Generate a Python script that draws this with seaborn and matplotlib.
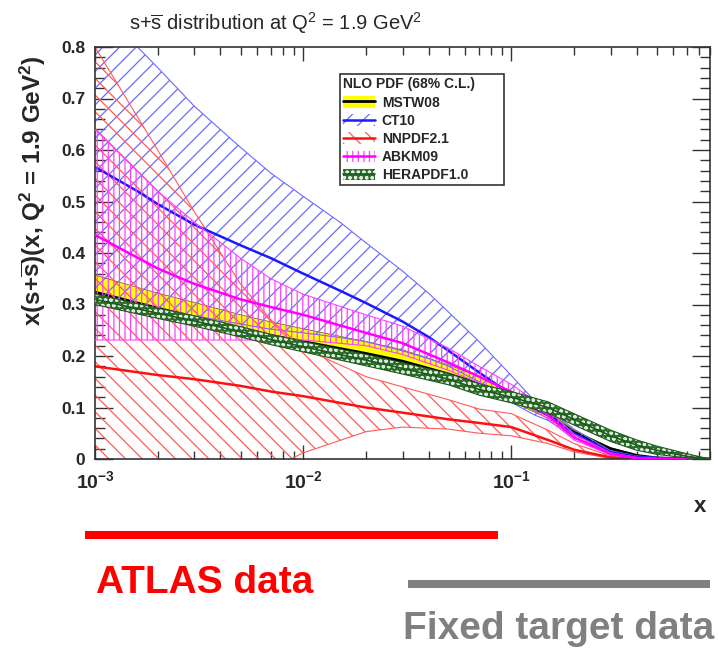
import matplotlib
matplotlib.use("Agg")
import matplotlib.pyplot as plt
import numpy as np
import pandas as pd
import seaborn as sns
from matplotlib.patches import Patch, Rectangle
from matplotlib.lines import Line2D
from matplotlib.ticker import FixedLocator, FixedFormatter, LogLocator, NullFormatter, MultipleLocator

# ---------------------------------------------------------------- data
x_nodes = [0.001, 0.002, 0.003, 0.005, 0.007, 0.01, 0.02, 0.03, 0.05, 0.07,
           0.1, 0.15, 0.2, 0.3, 0.4, 0.5, 0.7, 0.9]

mstw_central = [0.324, 0.293, 0.276, 0.254, 0.240, 0.228, 0.205, 0.190, 0.165, 0.146,
                0.122, 0.086, 0.052, 0.020, 0.007, 0.002, 0.0003, 0.0]
mstw_upper = [0.357, 0.322, 0.304, 0.280, 0.266, 0.253, 0.228, 0.212, 0.183, 0.160,
              0.132, 0.092, 0.056, 0.022, 0.008, 0.0025, 0.0005, 0.0]
mstw_lower = [0.300, 0.275, 0.260, 0.240, 0.226, 0.214, 0.190, 0.175, 0.150, 0.133,
              0.112, 0.079, 0.047, 0.017, 0.005, 0.0015, 0.0002, 0.0]

ct10_x = [0.001, 0.0016, 0.002, 0.003, 0.005, 0.007, 0.01, 0.015, 0.02, 0.03, 0.04,
          0.05, 0.07, 0.1, 0.13, 0.15, 0.2, 0.3, 0.4, 0.5, 0.7, 0.9]
ct10_central = [0.567, 0.520, 0.495, 0.455, 0.415, 0.390, 0.360, 0.327, 0.303, 0.267, 0.237,
                0.210, 0.168, 0.125, 0.097, 0.085, 0.050, 0.013, 0.004, 0.002, 0.0005, 0.0]
ct10_upper = [0.880, 0.800, 0.760, 0.685, 0.605, 0.555, 0.510, 0.460, 0.420, 0.365, 0.322,
              0.285, 0.228, 0.162, 0.112, 0.097, 0.058, 0.016, 0.006, 0.003, 0.001, 0.0]
ct10_lower = [0.310, 0.298, 0.290, 0.278, 0.262, 0.252, 0.245, 0.236, 0.228, 0.210, 0.195,
              0.180, 0.150, 0.110, 0.085, 0.075, 0.042, 0.010, 0.003, 0.001, 0.0002, 0.0]

nnpdf_x = [0.001, 0.002, 0.003, 0.005, 0.007, 0.01, 0.02, 0.03, 0.05, 0.07,
           0.1, 0.15, 0.2, 0.3, 0.4]
nnpdf_central = [0.180, 0.163, 0.155, 0.142, 0.131, 0.122, 0.100, 0.090, 0.077, 0.070,
                 0.062, 0.037, 0.018, 0.003, 0.0]
nnpdf_upper = [0.800, 0.600, 0.480, 0.340, 0.270, 0.215, 0.160, 0.140, 0.115, 0.097,
               0.088, 0.056, 0.030, 0.006, 0.0]
nnpdf_lower = [-0.400, -0.250, -0.160, -0.070, -0.020, 0.012, 0.053, 0.062, 0.058, 0.050,
               0.045, 0.030, 0.014, 0.001, 0.0]

abkm_central = [0.435, 0.370, 0.340, 0.310, 0.295, 0.280, 0.245, 0.225, 0.187, 0.160,
                0.130, 0.085, 0.042, 0.010, 0.002, 0.0005, 0.0, 0.0]
abkm_upper = [0.640, 0.520, 0.460, 0.390, 0.350, 0.320, 0.280, 0.258, 0.215, 0.180,
              0.145, 0.095, 0.048, 0.012, 0.003, 0.001, 0.0, 0.0]
abkm_lower = [0.231, 0.231, 0.231, 0.231, 0.231, 0.231, 0.220, 0.203, 0.172, 0.148,
              0.120, 0.078, 0.037, 0.008, 0.001, 0.0, 0.0, 0.0]

hera_central = [0.310, 0.283, 0.268, 0.247, 0.232, 0.218, 0.192, 0.176, 0.155, 0.135,
                0.120, 0.100, 0.077, 0.045, 0.027, 0.017, 0.005, 0.0]
hera_upper = [0.320, 0.293, 0.278, 0.257, 0.242, 0.228, 0.203, 0.187, 0.166, 0.146,
              0.131, 0.111, 0.088, 0.056, 0.037, 0.025, 0.010, 0.0]
hera_lower = [0.300, 0.273, 0.258, 0.237, 0.222, 0.208, 0.181, 0.165, 0.144, 0.124,
              0.109, 0.089, 0.066, 0.034, 0.017, 0.009, 0.002, 0.0]

pdf_names = ["MSTW08", "CT10", "NNPDF2.1", "ABKM09", "HERAPDF1.0"]
y_ticks = [0.0, 0.1, 0.2, 0.3, 0.4, 0.5, 0.6, 0.7, 0.8]
y_tick_labels = ["0", "0.1", "0.2", "0.3", "0.4", "0.5", "0.6", "0.7", "0.8"]
x_ticks = [1e-3, 1e-2, 1e-1]
x_tick_labels = [r"$\mathbf{10^{-3}}$", r"$\mathbf{10^{-2}}$", r"$\mathbf{10^{-1}}$"]

# ---------------------------------------------------------------- style
sns.set_theme(style="white")
plt.rcParams["font.family"] = ["Liberation Sans", "DejaVu Sans"]
plt.rcParams["mathtext.fontset"] = "custom"
plt.rcParams["mathtext.rm"] = "Liberation Sans"
plt.rcParams["mathtext.bf"] = "Liberation Sans:bold"
plt.rcParams["mathtext.it"] = "Liberation Sans:italic"
plt.rcParams["hatch.linewidth"] = 0.9

fig = plt.figure(figsize=(7.18, 6.51), dpi=100)
ax = fig.add_axes([95 / 718, 1 - 459 / 651, 615 / 718, 412 / 651])
ax.set_xscale("log")


def band(xs, lo, hi, edge, hatch, lw_edge=0.8, z=1):
    ax.fill_between(xs, lo, hi, facecolor="none", edgecolor=edge, hatch=hatch,
                    linewidth=0, zorder=z)
    for ys in (lo, hi):
        sns.lineplot(x=xs, y=ys, ax=ax, color=edge, linewidth=lw_edge,
                     estimator=None, sort=False, zorder=z + 0.1)


def central(xs, ys, color, lw=1.8, z=3):
    sns.lineplot(x=xs, y=ys, ax=ax, color=color, linewidth=lw,
                 estimator=None, sort=False, zorder=z)


# MSTW08: yellow band with black central line
ax.fill_between(x_nodes, mstw_lower, mstw_upper, facecolor="#ffff00",
                edgecolor="none", linewidth=0, zorder=1)
for ys in (mstw_lower, mstw_upper):
    sns.lineplot(x=x_nodes, y=ys, ax=ax, color="#555500", linewidth=0.5,
                 estimator=None, sort=False, zorder=1.1)
central(x_nodes, mstw_central, "black", lw=2.0, z=1.2)

# CT10: blue hatched band
band(ct10_x, ct10_lower, ct10_upper, "#6a6aff", "//", z=2)
central(ct10_x, ct10_central, "#1a1aff", z=2.5)

# NNPDF2.1: red hatched band
band(nnpdf_x, nnpdf_lower, nnpdf_upper, "#ff5a5a", "\\\\", z=2)
central(nnpdf_x, nnpdf_central, "#ff1010", z=2.5)

# ABKM09: magenta vertical hatch
band(x_nodes, abkm_lower, abkm_upper, "#ff40ff", "|||", z=2.6)
central(x_nodes, abkm_central, "#ff00ff", z=2.7)

# HERAPDF1.0: dark green band with white dots
ax.fill_between(x_nodes, hera_lower, hera_upper, facecolor="#2a6e2a",
                edgecolor="#dfeadf", hatch="ooo", linewidth=0, zorder=3)
for ys in (hera_lower, hera_upper):
    sns.lineplot(x=x_nodes, y=ys, ax=ax, color="#1f5a1f", linewidth=0.8,
                 estimator=None, sort=False, zorder=3.1)
central(x_nodes, hera_central, "#1f5a1f", lw=1.2, z=3.2)

# ---------------------------------------------------------------- axes
ax.set_xlim(1e-3, 0.9)
ax.set_ylim(0, 0.8)
ax.set_xlabel("")
ax.set_ylabel("")
ax.yaxis.set_major_locator(FixedLocator(y_ticks))
ax.yaxis.set_major_formatter(FixedFormatter(y_tick_labels))
ax.yaxis.set_minor_locator(MultipleLocator(0.02))
ax.xaxis.set_major_locator(FixedLocator(x_ticks))
ax.xaxis.set_major_formatter(FixedFormatter(x_tick_labels))
ax.xaxis.set_minor_locator(LogLocator(base=10, subs=np.arange(2, 10), numticks=20))
ax.xaxis.set_minor_formatter(NullFormatter())

ax.tick_params(axis="y", which="major", direction="in", length=13, width=1.0,
               left=True, right=True, labelsize=12.5, pad=7, color="#333333")
ax.tick_params(axis="y", which="minor", direction="in", length=7, width=1.0,
               left=True, right=True, color="#333333")
ax.tick_params(axis="x", which="major", direction="in", length=10, width=1.0,
               bottom=True, top=True, labelsize=14, pad=8, color="#333333")
ax.tick_params(axis="x", which="minor", direction="in", length=6, width=1.0,
               bottom=True, top=True, color="#333333")
for lab in ax.get_yticklabels():
    lab.set_fontweight("bold")
for s in ax.spines.values():
    s.set_linewidth(1.2)
    s.set_color("#333333")

# legend box with its entries
ax.add_patch(Rectangle((0.3984, 0.665), 0.2666, 0.2695, transform=ax.transAxes,
                       facecolor="white", edgecolor="#333333", linewidth=1.2, zorder=9))
handles = [
    (Patch(facecolor="#ffff00", edgecolor="none"), Line2D([], [], color="black", lw=2)),
    (Patch(facecolor="none", edgecolor="#6a6aff", hatch="//", lw=0), Line2D([], [], color="#1a1aff", lw=1.8)),
    (Patch(facecolor="none", edgecolor="#ff5a5a", hatch="\\\\", lw=0), Line2D([], [], color="#ff1010", lw=1.8)),
    (Patch(facecolor="none", edgecolor="#ff40ff", hatch="|||", lw=0), Line2D([], [], color="#ff00ff", lw=1.8)),
    (Patch(facecolor="#2a6e2a", edgecolor="#dfeadf", hatch="ooo", lw=0), Line2D([], [], color="#1f5a1f", lw=1.2)),
]
leg = ax.legend(handles, pdf_names, title="NLO PDF (68% C.L.)", loc="upper left",
                bbox_to_anchor=(0.3984, 0.9345), borderaxespad=0, frameon=False,
                prop={"weight": "bold", "size": 10},
                title_fontproperties={"weight": "bold", "size": 10},
                alignment="left", handlelength=2.3, handleheight=0.9,
                labelspacing=0.3, borderpad=0.25, handletextpad=0.45)
leg.set_zorder(10)

# titles
fig.text(276 / 718, 1 - 23 / 651, r"s+$\overline{\mathrm{s}}$ distribution at Q$^2$ = 1.9 GeV$^2$",
         ha="center", va="center", fontsize=14.5)
fig.text(33 / 718, 1 - 191 / 651,
         r"x(s+$\overline{\mathbf{s}}$)(x, Q$^{\mathbf{2}}$ = 1.9 GeV$^{\mathbf{2}}$)",
         ha="center", va="center", rotation=90, fontsize=17.5, fontweight="bold")
fig.text(700 / 718, 1 - 507 / 651, "x", ha="center", va="center", fontsize=16,
         fontweight="bold")

# kinematic coverage of the data sets
fig.add_artist(Line2D([85 / 718, 498 / 718], [1 - 535 / 651] * 2, transform=fig.transFigure,
                      color="#ff0000", linewidth=5.8, solid_capstyle="butt"))
fig.text(96 / 718, 1 - 583 / 651, "ATLAS data", ha="left", va="center", fontsize=28,
         fontweight="bold", color="#ff0000")
fig.add_artist(Line2D([408 / 718, 710 / 718], [1 - 584 / 651] * 2, transform=fig.transFigure,
                      color="#808080", linewidth=5.8, solid_capstyle="butt"))
fig.text(403 / 718, 1 - 629 / 651, "Fixed target data", ha="left", va="center", fontsize=28,
         fontweight="bold", color="#808080")

fig.savefig("out.png", dpi=100)
